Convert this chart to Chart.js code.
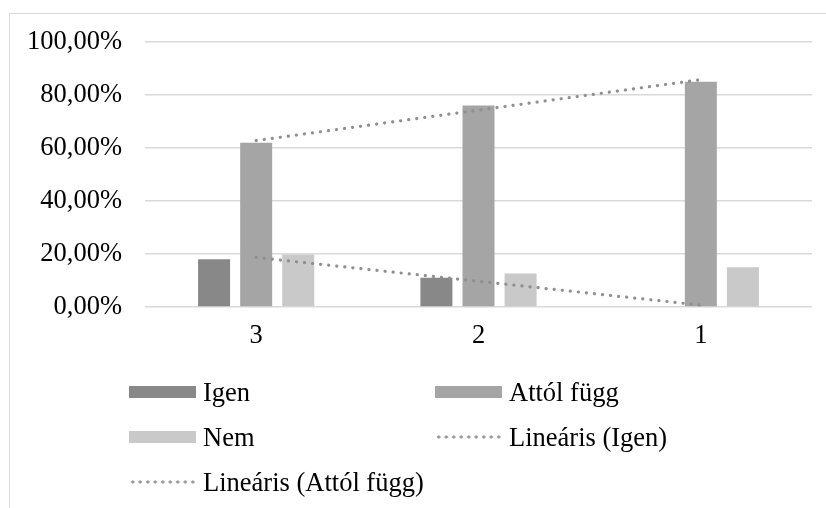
<!DOCTYPE html>
<html>
<head>
<meta charset="utf-8">
<script src="https://cdn.jsdelivr.net/npm/chart.js@4"></script>
<style>
  html, body { margin: 0; padding: 0; background: #fff; }
  #wrap { position: relative; width: 826px; height: 508px; overflow: hidden; font-family: "Liberation Serif", "Times New Roman", serif; }
  #frame { position: absolute; left: 9px; top: 13px; width: 900px; height: 600px; border: 1.5px solid #d9d9d9; box-sizing: border-box; }
  #myChart { position: absolute; left: 0; top: 0; }
  .item { position: absolute; font-size: 26.5px; color: #000; line-height: 26px; white-space: nowrap; }
  .swatch { position: absolute; width: 67px; height: 12px; }
  .dots { position: absolute; width: 68px; height: 4px;
          background-image: radial-gradient(circle, #999 1.4px, transparent 1.8px);
          background-size: 7.5px 4px; background-position: 0 0; }
</style>
</head>
<body>
<div id="wrap">
  <div id="frame"></div>
  <canvas id="myChart" width="826" height="508"></canvas>
  <div id="legend"></div>
</div>
<script>
// data
const categories = ["3", "2", "1"];
const igen = [18, 11, 0];
const attolFugg = [62, 76, 85];
const nem = [19.8, 12.6, 15];
// trendline end points (Excel linear trend), middle left empty
const trendIgen = [18.7, null, 0.7];
const trendAttol = [62.8, null, 85.8];
const yTicks = [0, 20, 40, 60, 80, 100];

const barColors = { igen: "#888888", attol: "#a5a5a5", nem: "#c9c9c9" };
const dotColor = "#8f8f8f";

const fmtPct = (v) => v.toFixed(2).replace(".", ",") + "%";

const trendStyle = {
    type: "line",
    borderColor: dotColor,
    borderWidth: 3.2,
    borderDash: [0.1, 8],
    borderCapStyle: "round",
    pointRadius: 0,
    spanGaps: true,
    fill: false,
    order: 1
};

const data = {
    labels: categories,
    datasets: [
        { label: "Igen", data: igen, backgroundColor: barColors.igen, order: 2 },
        { label: "Attól függ", data: attolFugg, backgroundColor: barColors.attol, order: 2 },
        { label: "Nem", data: nem, backgroundColor: barColors.nem, order: 2 },
        Object.assign({ label: "Lineáris (Igen)", data: trendIgen }, trendStyle),
        Object.assign({ label: "Lineáris (Attól függ)", data: trendAttol }, trendStyle)
    ]
};

const font = { family: "'Liberation Serif', 'Times New Roman', serif", size: 26.5 };

const config = {
    type: "bar",
    data: data,
    options: {
        responsive: false,
        animation: false,
        barPercentage: 0.76,
        categoryPercentage: 0.568,
        layout: { padding: { top: 42, right: 14, left: 0, bottom: 0 } },
        plugins: {
            legend: { display: false },
            tooltip: { enabled: false }
        },
        scales: {
            x: {
                grid: { display: false, drawTicks: false },
                border: { display: false },
                ticks: { color: "#000", font: font, padding: 13 },
                afterFit: (scale) => { scale.height = 201; }
            },
            y: {
                min: 0,
                max: 100,
                afterBuildTicks: (scale) => { scale.ticks = yTicks.map(v => ({ value: v })); },
                grid: { color: "#d9d9d9", lineWidth: 1.5, drawTicks: false },
                border: { display: false },
                ticks: { color: "#000", font: font, padding: 23, callback: (v) => fmtPct(v) },
                afterFit: (scale) => { scale.width = 145; }
            }
        }
    }
};

// legend laid out as in the original (two columns)
const legendPos = [
    { x: 129, y: 392 }, { x: 435, y: 392 },
    { x: 129, y: 437 }, { x: 435, y: 437 },
    { x: 129, y: 482 }
];

window.onload = () => {
    const chart = new Chart(document.getElementById("myChart"), config);
    const legend = document.getElementById("legend");
    chart.data.datasets.forEach((ds, i) => {
        const p = legendPos[i];
        const mark = document.createElement("div");
        if (ds.type === "line") {
            mark.className = "dots";
            mark.style.left = p.x + "px";
            mark.style.top = (p.y - 2) + "px";
        } else {
            mark.className = "swatch";
            mark.style.background = ds.backgroundColor;
            mark.style.left = p.x + "px";
            mark.style.top = (p.y - 6) + "px";
        }
        legend.appendChild(mark);
        const txt = document.createElement("div");
        txt.className = "item";
        txt.textContent = ds.label;
        txt.style.left = (p.x + 74) + "px";
        txt.style.top = (p.y - 13) + "px";
        legend.appendChild(txt);
    });
};
</script>
</body>
</html>
